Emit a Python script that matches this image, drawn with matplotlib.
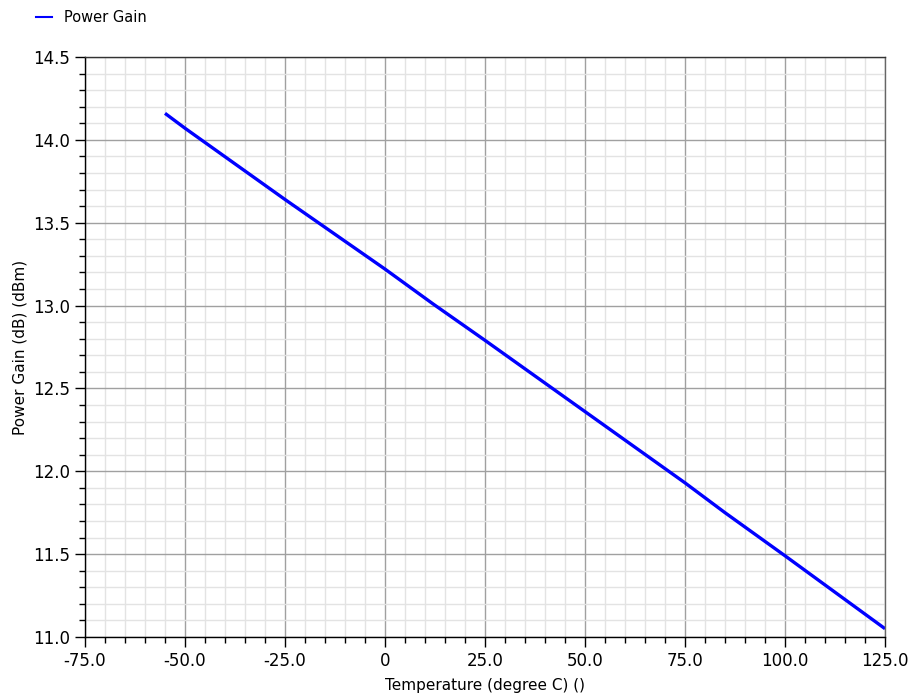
import numpy as np
import matplotlib.pyplot as plt
from matplotlib.lines import Line2D
from matplotlib.ticker import MultipleLocator, FuncFormatter

# temperature sweep and gain
temperature = [-55, -50, -25, 0, 12, 25, 50, 75, 85, 100, 125]
power_gain = [14.16, 14.07, 13.64, 13.22, 13.01, 12.79, 12.36, 11.93, 11.75, 11.49, 11.05]

fig = plt.figure(figsize=(9.16, 7.0), dpi=100)
ax = fig.add_axes([0.0928, 0.09, 0.8734, 0.8286])

ax.plot(temperature, power_gain, color='#0000ff', lw=2.4, solid_capstyle='butt')

ax.set_xlim(-75, 125)
ax.set_ylim(11.0, 14.5)
ax.xaxis.set_major_locator(MultipleLocator(25))
ax.xaxis.set_minor_locator(MultipleLocator(5))
ax.yaxis.set_major_locator(MultipleLocator(0.5))
ax.yaxis.set_minor_locator(MultipleLocator(0.1))
ax.xaxis.set_major_formatter(FuncFormatter(lambda v, p: '0' if abs(v) < 1e-9 else '%.1f' % v))
ax.yaxis.set_major_formatter(FuncFormatter(lambda v, p: '%.1f' % v))

ax.grid(which='minor', color='#e3e3e3', lw=1.0)
ax.grid(which='major', color='#a0a0a0', lw=1.0)
ax.set_axisbelow(True)

ax.tick_params(which='major', direction='out', length=7, width=1, labelsize=12, colors='black')
ax.tick_params(which='minor', direction='out', length=4, width=1)
for s in ax.spines.values():
    s.set_linewidth(1)
ax.spines['top'].set_color('#333333')
ax.spines['right'].set_color('#666666')

ax.set_xlabel('Temperature (degree C) ()', fontsize=11, labelpad=6)
ax.set_ylabel('Power Gain (dB) (dBm)', fontsize=11, labelpad=4)

# legend handle is thinner than the plotted line
handle = Line2D([], [], color='#0000ff', lw=1.5)
fig.legend([handle], ['Power Gain'], loc='upper left', bbox_to_anchor=(0.025, 1.005),
           frameon=False, fontsize=10.5, handlelength=1.1, handletextpad=0.8)

fig.savefig('out.png', dpi=100)
